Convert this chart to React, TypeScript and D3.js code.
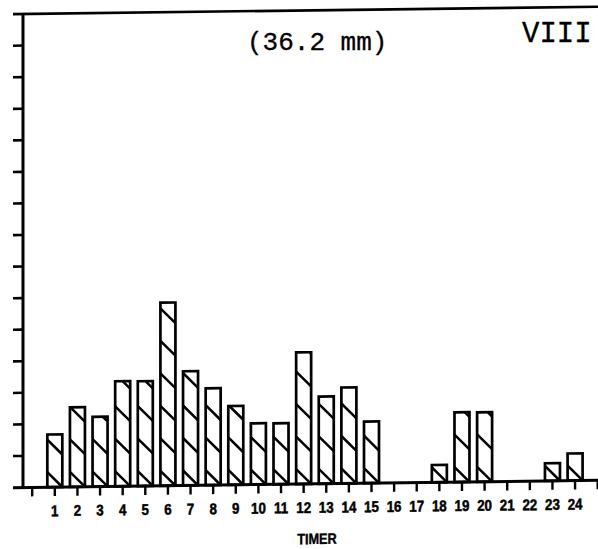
import React from 'react';
import * as d3 from 'd3';

// Categories (hours) and bar values (in y-tick units)
const hours = [1, 2, 3, 4, 5, 6, 7, 8, 9, 10, 11, 12, 13, 14, 15, 16, 17, 18, 19, 20, 21, 22, 23, 24];
const values = [1.67, 2.52, 2.21, 3.33, 3.32, 5.8, 3.62, 3.07, 2.5, 1.94, 1.93, 4.17, 2.76, 3.04, 1.95, 0, 0, 0.55, 2.21, 2.2, 0, 0, 0.56, 0.86];
const tickLabels = ['1', '2', '3', '4', '5', '6', '7', '8', '9', '10', '11', '12', '13', '14', '15', '16', '17', '18', '19', '20', '21', '22', '23', '24'];
const xTickPositions = [0, 1, 2, 3, 4, 5, 6, 7, 8, 9, 10, 11, 12, 13, 14, 15, 16, 17, 18, 19, 20, 21, 22, 23, 24, 25];
const yTickValues = [1, 2, 3, 4, 5, 6, 7, 8, 9, 10, 11, 12, 13, 14];
const titleText = '(36.2 mm)';
const panelText = 'VIII';
const xAxisTitle = 'TIMER';

const W = 598;
const H = 549;
const AX = 23; // y axis x
const BASE = 487.5; // baseline y
const TOP = 14;
const SKEW = -0.72;

export default function App() {
  const x = d3.scaleLinear().domain([0, 25]).range([32.2, 597.7]);
  const y = d3.scaleLinear().domain([0, 15]).range([BASE, TOP]);
  const barW = 15;
  const P = 32.5; // hatch spacing
  const D = 15; // hatch drop across bar

  const hatch = (cx: number, top: number) => {
    const xl = cx - barW / 2;
    const xr = cx + barW / 2;
    const segs: string[] = [];
    for (let k = 0; k < 40; k++) {
      const yr = BASE - k * P;
      const yl = yr - D;
      if (yr <= top + 1) break;
      let sx = xl;
      let sy = yl;
      if (yl < top) {
        sx = xl + ((top - yl) / D) * barW;
        sy = top;
      }
      segs.push(`M${sx},${sy}L${xr},${yr}`);
    }
    return segs.join('');
  };

  const lineStyle = { stroke: '#000', fill: 'none' } as const;

  return (
    <svg
      width={W}
      height={H}
      style={{ position: 'absolute', left: 0, top: 0, background: '#fff' }}
    >
      <rect x={0} y={0} width={W} height={H} fill="#fff" />
      <g transform={`translate(${AX},${BASE}) skewY(${SKEW}) translate(${-AX},${-BASE})`}>
        {/* top border */}
        <line x1={13} x2={W} y1={TOP} y2={TOP} {...lineStyle} strokeWidth={2.6} />
        {/* y axis */}
        <line x1={AX} x2={AX} y1={TOP} y2={BASE} {...lineStyle} strokeWidth={3} />
        {/* y ticks */}
        {yTickValues.map((v) => (
          <line key={'yt' + v} x1={13} x2={AX} y1={y(v)} y2={y(v)} {...lineStyle} strokeWidth={2.6} />
        ))}
        {/* bars */}
        {hours.map((h, i) => {
          const v = values[i];
          if (!v) return null;
          const cx = x(h);
          const top = y(v);
          return (
            <g key={'b' + h}>
              <rect
                x={cx - barW / 2}
                y={top}
                width={barW}
                height={BASE - top}
                fill="#fff"
                stroke="#000"
                strokeWidth={2.7}
              />
              <path d={hatch(cx, top)} {...lineStyle} strokeWidth={2.5} />
            </g>
          );
        })}
        {/* baseline */}
        <line x1={13} x2={W} y1={BASE} y2={BASE} {...lineStyle} strokeWidth={3} />
        {/* x ticks */}
        {xTickPositions.map((k) => (
          <line key={'xt' + k} x1={x(k)} x2={x(k)} y1={BASE} y2={BASE + 9} {...lineStyle} strokeWidth={2.4} />
        ))}
        {/* x tick labels */}
        {hours.map((h, i) => (
          <text
            key={'xl' + h}
            transform={`translate(${x(h)},${BASE + 29}) scale(0.86,1)`}
            textAnchor="middle"
            fontFamily="'Liberation Sans', Arial, sans-serif"
            fontWeight="bold"
            fontSize={15.5}
            stroke="#000"
            strokeWidth={0.5}
            fill="#000"
          >
            {tickLabels[i]}
          </text>
        ))}
        <text
          transform={`translate(317,547.7) scale(0.85,1)`}
          textAnchor="middle"
          fontFamily="'Liberation Sans', Arial, sans-serif"
          fontWeight="bold"
          fontSize={15}
          stroke="#000"
          strokeWidth={0.4}
          fill="#000"
        >
          {xAxisTitle}
        </text>
      </g>
      <text
        x={247}
        y={50}
        fontFamily="'Liberation Mono', 'DejaVu Sans Mono', monospace"
        fontSize={26}
        stroke="#000"
        strokeWidth={0.3}
        fill="#000"
      >
        {titleText}
      </text>
      <text
        x={522}
        y={41.7}
        fontFamily="'Liberation Mono', 'DejaVu Sans Mono', monospace"
        fontSize={29}
        stroke="#000"
        strokeWidth={0.3}
        fill="#000"
      >
        {panelText}
      </text>
    </svg>
  );
}
